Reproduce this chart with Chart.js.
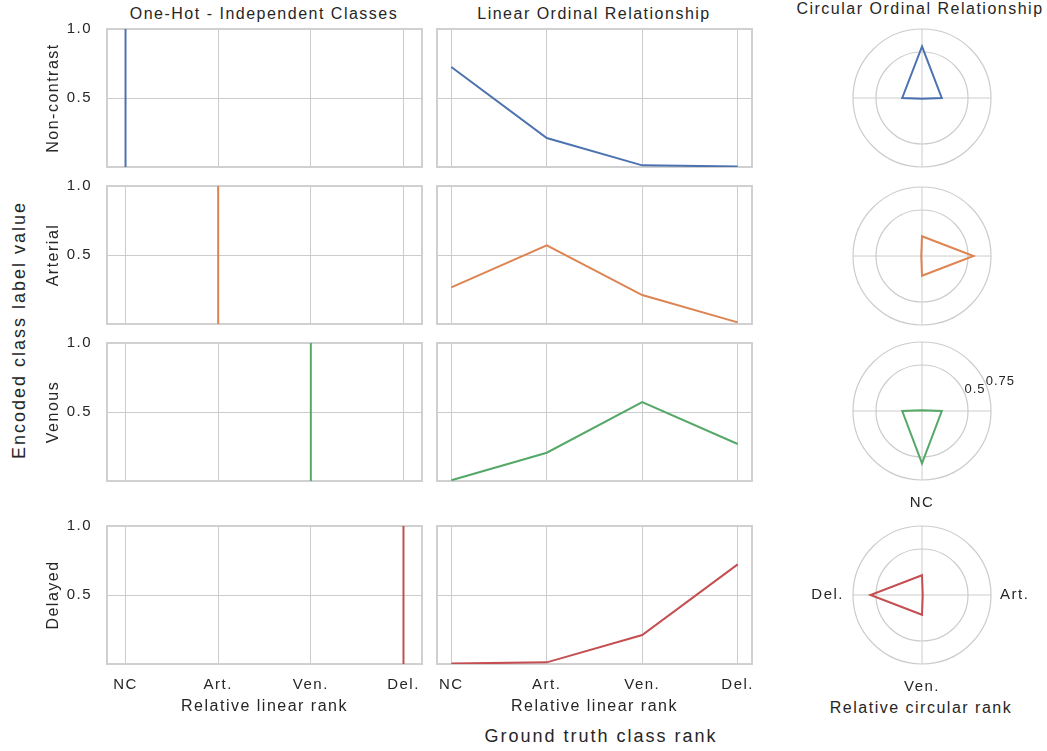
<!DOCTYPE html>
<html>
<head>
<meta charset="utf-8">
<script src="https://cdn.jsdelivr.net/npm/chart.js@4.4.0/dist/chart.umd.min.js"></script>
<style>
  html, body { margin: 0; padding: 0; background: #fff; overflow: hidden; }
  body { width: 1047px; height: 751px; position: relative; font-family: 'Liberation Sans', Arial, sans-serif; color: #262626; }
  canvas { position: absolute; }
  .lbl { position: absolute; white-space: nowrap; line-height: 1.2; transform: translate(-50%, -50%); }
</style>
</head>
<body>
<div class="lbl" style="left:264px;top:14px;font-size:16px;letter-spacing:1.5px">One-Hot - Independent Classes</div>
<div class="lbl" style="left:594px;top:14px;font-size:16px;letter-spacing:1.5px">Linear Ordinal Relationship</div>
<div class="lbl" style="left:920px;top:9px;font-size:16px;letter-spacing:1.5px">Circular Ordinal Relationship</div>
<div class="lbl" style="left:20px;top:330px;font-size:18px;letter-spacing:2px;transform:translate(-50%,-50%) rotate(-90deg)">Encoded class label value</div>
<div class="lbl" style="left:601px;top:737px;font-size:18px;letter-spacing:2px">Ground truth class rank</div>
<div class="lbl" style="left:921px;top:708px;font-size:16px;letter-spacing:1.5px">Relative circular rank</div>
<script>
// class ranks and phase names
const classes = ['NC', 'Art.', 'Ven.', 'Del.'];
const phases = ['Non-contrast', 'Arterial', 'Venous', 'Delayed'];
const colors = ['#4c72b0', '#dd8452', '#55a868', '#c44e52'];

// encodings, one row per ground truth phase
const oneHot = [
  [1, 0, 0, 0],
  [0, 1, 0, 0],
  [0, 0, 1, 0],
  [0, 0, 0, 1]
];
const linearEnc = [
  [0.725, 0.21, 0.012, 0.004],
  [0.265, 0.57, 0.21, 0.012],
  [0.005, 0.205, 0.572, 0.268],
  [0.003, 0.012, 0.21, 0.722]
];
const circularEnc = [
  [0.56, 0.215, 0.008, 0.215],
  [0.215, 0.56, 0.215, 0.008],
  [0.008, 0.215, 0.57, 0.215],
  [0.215, 0.008, 0.215, 0.56]
];

const yTicks = [0.5, 1.0];
const rTicks = [0, 0.5, 0.75];
const rLabelTicks = [0.5, 0.75];

// layout
const rowTops = [29, 186, 343, 526];
const polarCY = [98, 256, 411, 595];
const plotW = 315, plotH = 138;
const gridColor = '#cccccc';
const textColor = '#262626';

Chart.defaults.font.family = "'Liberation Sans', Arial, sans-serif";
Chart.defaults.color = textColor;

const spacing = {
  id: 'spacing',
  beforeUpdate(ch) { ch.ctx.letterSpacing = '1.5px'; },
  beforeDraw(ch) { ch.ctx.letterSpacing = '1.5px'; }
};
const frame = {
  id: 'frame',
  beforeDatasetsDraw(ch) {
    const a = ch.chartArea, c = ch.ctx;
    c.save();
    c.strokeStyle = '#d0d0d0';
    c.lineWidth = 2;
    c.strokeRect(a.left, a.top, a.right - a.left, a.bottom - a.top);
    c.restore();
  }
};
const rLabels = {
  id: 'rLabels',
  afterDraw(ch) {
    const s = ch.scales.r, c = ch.ctx;
    const ang = 22.5 * Math.PI / 180;
    c.save();
    c.letterSpacing = '1px';
    c.font = "13px 'Liberation Sans', Arial, sans-serif";
    c.fillStyle = textColor;
    c.textAlign = 'left';
    c.textBaseline = 'alphabetic';
    rLabelTicks.forEach(v => {
      const d = s.getDistanceFromCenterForValue(v);
      c.fillText(String(v), s.xCenter + d * Math.cos(ang), s.yCenter - d * Math.sin(ang));
    });
    c.restore();
  }
};

function makeCanvas(left, top, w, h) {
  const cv = document.createElement('canvas');
  cv.width = w; cv.height = h;
  cv.style.left = left + 'px';
  cv.style.top = top + 'px';
  cv.style.width = w + 'px';
  cv.style.height = h + 'px';
  document.body.appendChild(cv);
  return cv;
}

function cartChart(col, row) {
  const first = col === 0, last = row === 3;
  const padL = first ? 0 : 8, yW = first ? 71 : 0;
  const xH = last ? 56 : 0, padB = last ? 4 : 10;
  const left = (first ? 107 : 437) - yW - padL;
  const top = rowTops[row] - 10;
  const w = padL + yW + plotW + 8, h = 10 + plotH + xH + padB;
  let data;
  if (first) {
    const k = oneHot[row].indexOf(1);
    data = [{x: k, y: 0}, {x: k, y: oneHot[row][k]}];
  } else {
    data = linearEnc[row].map((v, i) => ({x: i, y: v}));
  }
  new Chart(makeCanvas(left, top, w, h), {
    type: 'line',
    data: {datasets: [{data, borderColor: colors[row], borderWidth: 2, pointRadius: 0, fill: false, tension: 0}]},
    options: {
      responsive: false, animation: false, events: [],
      layout: {padding: {left: padL, right: 8, top: 10, bottom: padB}},
      plugins: {legend: {display: false}, tooltip: {enabled: false}},
      scales: {
        x: {
          type: 'linear', min: first ? -0.2 : -0.15, max: first ? 3.2 : 3.15,
          afterBuildTicks: s => { s.ticks = classes.map((c, i) => ({value: i})); },
          afterFit: s => { s.height = xH; },
          grid: {color: gridColor, lineWidth: 1, drawTicks: true, tickLength: 12, tickColor: 'rgba(0,0,0,0)'},
          border: {display: false},
          ticks: {display: last, padding: 0, autoSkip: false, maxRotation: 0, font: {size: 15}, color: textColor,
                  callback: v => classes[v]},
          title: {display: last, text: 'Relative linear rank', font: {size: 16}, color: textColor, padding: {top: 0, bottom: 4}}
        },
        y: {
          min: 0, max: 1,
          afterBuildTicks: s => { s.ticks = yTicks.map(v => ({value: v})); },
          afterFit: s => { s.width = yW; },
          grid: {color: gridColor, lineWidth: 1, drawTicks: true, tickLength: 15, tickColor: 'rgba(0,0,0,0)'},
          border: {display: false},
          ticks: {display: first, padding: 0, font: {size: 15}, color: textColor, callback: v => v.toFixed(1)},
          title: {display: first, text: phases[row], font: {size: 16}, color: textColor, padding: {top: 8, bottom: 0}}
        }
      }
    },
    plugins: [spacing, frame]
  });
}

function polarChart(row) {
  const last = row === 3;
  let pad, aw, ah;
  if (last) {
    pad = {left: 2, right: 2, top: 5, bottom: 5}; aw = 296; ah = 202;
  } else {
    pad = {left: 10, right: 40, top: 10, bottom: 10}; aw = 139; ah = 139;
  }
  const cx = Math.floor(pad.left + aw / 2), cy = Math.floor(pad.top + ah / 2);
  const w = pad.left + aw + pad.right, h = pad.top + ah + pad.bottom;
  const plugins = [spacing];
  if (row === 2) plugins.push(rLabels);
  new Chart(makeCanvas(922 - cx, polarCY[row] - cy, w, h), {
    type: 'radar',
    data: {
      labels: classes,
      datasets: [{data: circularEnc[row], borderColor: colors[row], backgroundColor: 'rgba(0,0,0,0)',
                  borderWidth: 2, pointRadius: 0, fill: false}]
    },
    options: {
      responsive: false, animation: false, events: [],
      layout: {padding: pad},
      plugins: {legend: {display: false}, tooltip: {enabled: false}},
      scales: {
        r: {
          min: 0, max: 0.75,
          afterBuildTicks: s => { s.ticks = rTicks.map(v => ({value: v})); },
          grid: {circular: true, color: gridColor, lineWidth: 1.2},
          angleLines: {display: true, color: gridColor, lineWidth: 1},
          ticks: {display: false},
          pointLabels: {
            display: last, font: {size: 15}, color: textColor,
            padding: ctx => (ctx.index % 2 ? 9 : 14)
          }
        }
      }
    },
    plugins
  });
}

for (let r = 0; r < 4; r++) {
  cartChart(0, r);
  cartChart(1, r);
  polarChart(r);
}
</script>
</body>
</html>
